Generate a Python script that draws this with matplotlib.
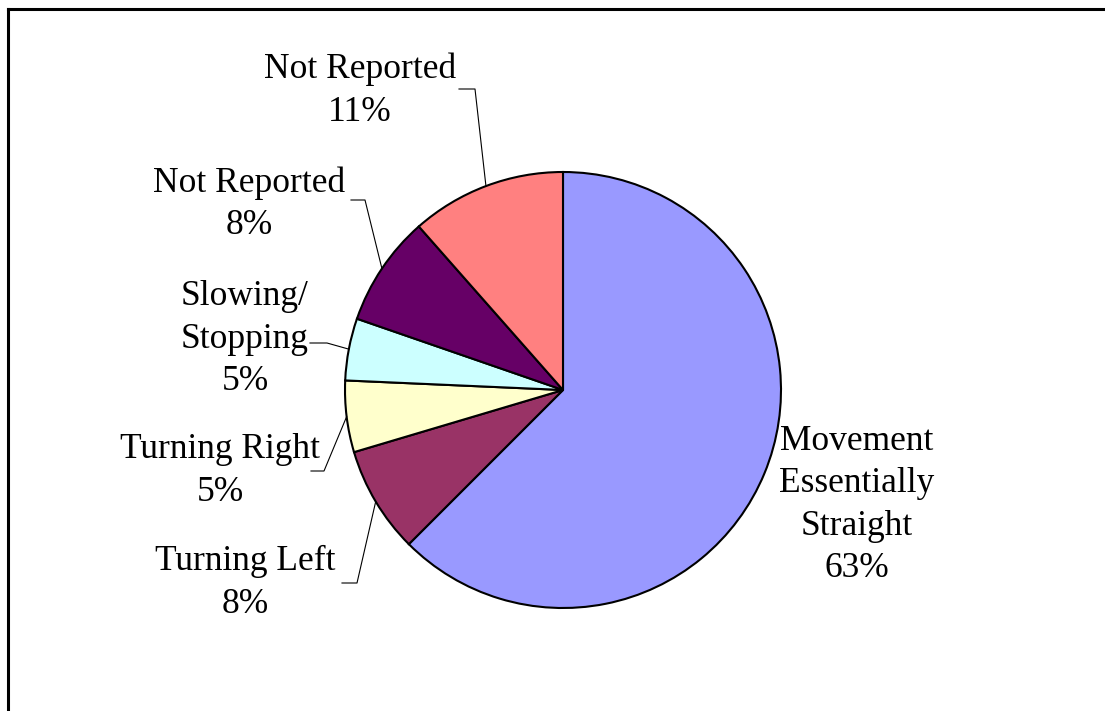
import numpy as np
import matplotlib
matplotlib.use("Agg")
import matplotlib.pyplot as plt
from matplotlib.lines import Line2D

# data
labels = ["Movement\nEssentially\nStraight", "Turning Left", "Turning Right",
          "Slowing/\nStopping", "Not Reported", "Not Reported"]
shares = [62.5, 7.9, 5.3, 4.6, 8.2, 11.5]
pct_text = ["63%", "8%", "5%", "5%", "8%", "11%"]
colors = ["#9999FF", "#993366", "#FFFFCC", "#CCFFFF", "#660066", "#FF8080"]

W, H = 1105, 711
CX, CY, R = 563, H - 390, 218

# label layout (pixel coords, y up): text centre, leader start x, elbow x
label_pos = [(857, 206), (245, 128), (220, 240), (245, 372), (249, 507), (360, 620)]
leader = [None, (342, 357, 128), (311, 324, 240), (310, 327, 368),
          (351, 365, 511), (459, 475, 622)]

plt.rcParams["font.family"] = ["Liberation Serif", "DejaVu Serif"]

fig = plt.figure(figsize=(W / 100, H / 100), dpi=100)
ax = fig.add_axes([0, 0, 1, 1])

wedges, _ = ax.pie(shares, colors=colors, startangle=90, counterclock=False,
                   center=(CX, CY), radius=R,
                   wedgeprops=dict(edgecolor="black", linewidth=1.5))

# pie() resets the limits, so set them afterwards
ax.set_xlim(0, W)
ax.set_ylim(0, H)
ax.set_aspect("equal")
ax.axis("off")

for i, w in enumerate(wedges):
    x, y = label_pos[i]
    ax.text(x, y, labels[i] + "\n" + pct_text[i], ha="center", va="center",
            fontsize=25.5, linespacing=1.38)
    if leader[i] is not None:
        mid = np.deg2rad((w.theta1 + w.theta2) / 2)
        ex, ey = CX + R * np.cos(mid), CY + R * np.sin(mid)
        x0, x1, ly = leader[i]
        ax.plot([x0, x1, ex], [ly, ly, ey], color="black", lw=0.8)

# chart frame (top and left edges visible)
ax.add_line(Line2D([8, W], [H - 9, H - 9], color="black", lw=2.2))
ax.add_line(Line2D([8, 8], [0, H - 9], color="black", lw=2.2))

fig.savefig("out.png", dpi=100, facecolor="white")
